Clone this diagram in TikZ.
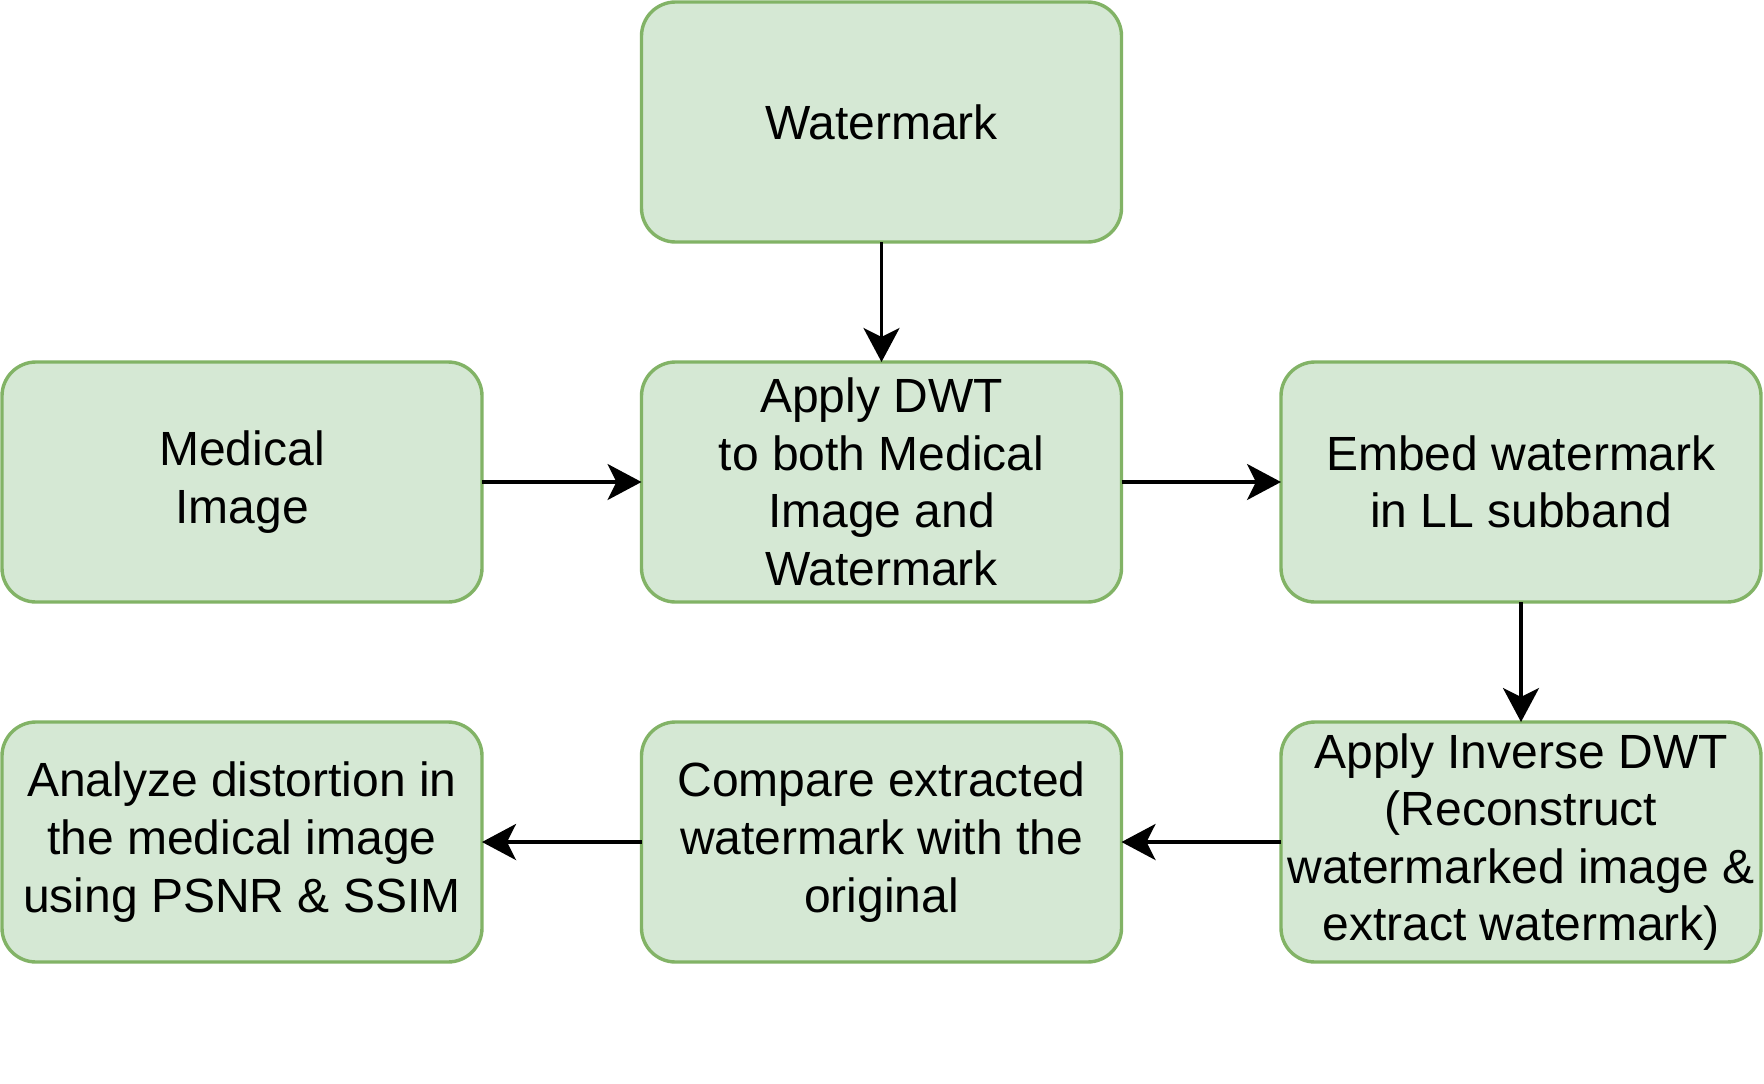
\documentclass[tikz,border=0pt]{standalone}
\usepackage{fontspec}
\setmainfont{Liberation Sans}
\usetikzlibrary{arrows.meta}
\definecolor{boxfill}{HTML}{D5E8D4}
\definecolor{boxline}{HTML}{82B366}
\begin{document}
\begin{tikzpicture}[x=1pt,y=-1pt,
  flowbox/.style={draw=boxline, fill=boxfill, line width=3.4pt, rounded corners=34pt,
    minimum width=480pt, minimum height=240pt, inner sep=0pt, outer sep=0pt,
    align=center, font=\fontsize{48}{57.6}\selectfont},
  flowarrow/.style={draw=black, line width=3.6pt,
    -{Stealth[length=34pt,width=36pt,inset=9pt]}}]
\useasboundingbox (0,0) rectangle (1764,1084);
\fill[white] (0,0) rectangle (1764,1084);
\node[flowbox] (wm) at (881.5,122) {Watermark};
\node[flowbox] (med) at (242,482) {Medical\\Image};
\node[flowbox] (dwt) at (881.5,482) {Apply DWT\\to both Medical\\Image and\\Watermark};
\node[flowbox] (emb) at (1521,482) {Embed watermark\\in LL subband};
\node[flowbox] (inv) at (1521,842) {Apply Inverse DWT\\(Reconstruct\\watermarked image \&\\extract watermark)};
\node[flowbox] (cmp) at (881.5,842) {Compare extracted\\watermark with the\\original};
\node[flowbox] (ana) at (242,842) {Analyze distortion in\\the medical image\\using PSNR \& SSIM};
\draw[flowarrow] (wm.south) -- (dwt.north);
\draw[flowarrow] (med.east) -- (dwt.west);
\draw[flowarrow] (dwt.east) -- (emb.west);
\draw[flowarrow] (emb.south) -- (inv.north);
\draw[flowarrow] (inv.west) -- (cmp.east);
\draw[flowarrow] (cmp.west) -- (ana.east);
\end{tikzpicture}
\end{document}
